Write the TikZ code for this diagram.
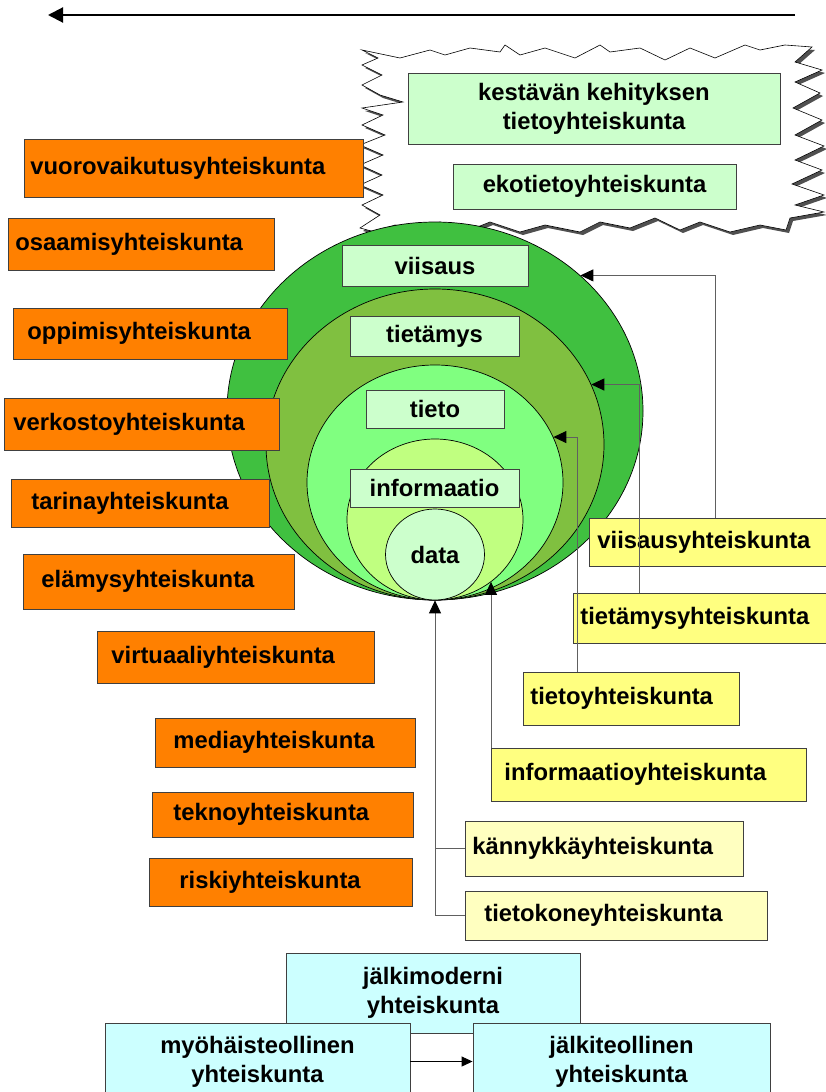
\documentclass[tikz,border=0pt]{standalone}
\usepackage{fontspec}
\setmainfont{Liberation Sans}
\usetikzlibrary{shapes.geometric,arrows.meta}

\definecolor{ringA}{RGB}{64,192,64}
\definecolor{ringB}{RGB}{128,192,64}
\definecolor{ringC}{RGB}{128,255,128}
\definecolor{ringD}{RGB}{192,255,128}
\definecolor{mint}{RGB}{204,255,204}
\definecolor{orangeC}{RGB}{255,128,0}
\definecolor{yellowC}{RGB}{255,255,128}
\definecolor{paleY}{RGB}{255,255,192}
\definecolor{cyanC}{RGB}{204,255,255}
\definecolor{boxline}{RGB}{64,64,64}
\definecolor{connGray}{RGB}{96,96,96}
\definecolor{shadowGray}{RGB}{80,80,80}

\tikzset{
  box/.style={draw=boxline, line width=0.9pt, inner ysep=0pt, text=black},
  obox/.style={box, fill=orangeC, anchor=west, align=left},
  ybox/.style={box, fill=yellowC, anchor=west, align=left},
  lybox/.style={box, fill=paleY, anchor=west, align=left},
  gbox/.style={box, fill=mint, align=center, inner xsep=0pt},
  cbox/.style={box, fill=cyanC, align=center, inner xsep=0pt},
  ring/.style={ellipse, draw=black, line width=0.7pt, inner sep=0pt},
  conn/.style={draw=connGray, line width=1pt},
  tip/.style={-{Triangle[length=13pt,width=12pt,color=black]}},
  cloudedge/.style={insert path={
    (362,50) -- (400,58) -- (430,50) -- (445,55) -- (470,48) -- (500,52) -- (505,45)
    -- (520,55) -- (545,48) -- (575,58) -- (600,45) -- (610,52) -- (640,48) -- (665,60)
    -- (690,48) -- (715,58) -- (745,45) -- (760,50) -- (785,45) -- (812,47)
    -- (795,62) -- (822,70) -- (795,82) -- (820,93) -- (793,108) -- (822,120)
    -- (795,135) -- (824,146) -- (795,160) -- (822,170) -- (792,184) -- (824,195)
    -- (795,205) -- (824,212) -- (790,218) -- (786,230) -- (760,225) -- (730,232)
    -- (700,222) -- (680,230) -- (655,218) -- (630,228) -- (600,222) -- (580,232)
    -- (545,225) -- (520,232) -- (490,222) -- (470,230) -- (440,222) -- (420,228)
    -- (395,225) -- (375,232) -- (360,228) -- (380,215) -- (362,205) -- (383,195)
    -- (360,185) -- (382,175) -- (360,165) -- (383,155) -- (360,145) -- (385,135)
    -- (362,125) -- (383,115) -- (362,108) -- (403,102) -- (380,95) -- (362,85)
    -- (382,75) -- (362,65) -- (378,58) -- cycle}}
}

\begin{document}
\begin{tikzpicture}[x=1pt, y=-1pt, font=\fontsize{23.8}{29}\selectfont\bfseries]
\useasboundingbox (0,0) rectangle (826,1092);

% time arrow along the top
\coordinate (timeR) at (795,15);
\coordinate (timeL) at (48,15);
\draw[line width=2pt, -{Triangle[length=15pt,width=15pt]}] (timeR) -- (timeL);

% jagged cloud with its shadow
\begin{scope}[shift={(3,3)}]
  \fill[shadowGray, cloudedge];
\end{scope}
\filldraw[fill=white, draw=black, line width=0.6pt, cloudedge];

\node[gbox, minimum width=372pt, minimum height=71pt] (kestY) at (594,108.5)
  {kestävän kehityksen\\tietoyhteiskunta};
\node[gbox, minimum width=283pt, minimum height=45pt] (ekoY) at (594.5,186.5)
  {ekotietoyhteiskunta};

% nested rings, all touching at the bottom
\node[ring, fill=ringA, minimum width=416pt, minimum height=378pt] (e1) at (435,411) {};
\node[ring, fill=ringB, minimum width=338pt, minimum height=311pt] (e2) at (435,444.5) {};
\node[ring, fill=ringC, minimum width=256pt, minimum height=235pt] (e3) at (435,482.5) {};
\node[ring, fill=ringD, minimum width=176pt, minimum height=161pt] (e4) at (435,519.5) {};
\node[ring, fill=mint, minimum width=99pt, minimum height=91pt] (e5) at (435,554.5) {data};

\node[gbox, minimum width=186pt, minimum height=41pt] (viisaus) at (435,265.5) {viisaus};
\node[gbox, minimum width=169pt, minimum height=40pt] (tietamys) at (434.5,336) {tietämys};
\node[gbox, minimum width=138pt, minimum height=38pt] (tieto) at (435,409) {tieto};
\node[gbox, minimum width=169pt, minimum height=38pt] (informaatio) at (434.5,488) {informaatio};

% orange societies on the left
\node[obox, text width=327pt, inner xsep=6pt,  minimum height=58pt] (vuoro)   at (24,168)   {vuorovaikutusyhteiskunta};
\node[obox, text width=252pt, inner xsep=7pt,  minimum height=52pt] (osaam)   at (8,244)    {osaamisyhteiskunta};
\node[obox, text width=246pt, inner xsep=14pt, minimum height=51pt] (oppim)   at (13,333.5) {oppimisyhteiskunta};
\node[obox, text width=257pt, inner xsep=9pt,  minimum height=52pt] (verko)   at (4,424)    {verkostoyhteiskunta};
\node[obox, text width=218pt, inner xsep=20pt, minimum height=48pt] (tarina)  at (11,503)   {tarinayhteiskunta};
\node[obox, text width=235pt, inner xsep=18pt, minimum height=55pt] (elamys)  at (23,581.5) {elämysyhteiskunta};
\node[obox, text width=249pt, inner xsep=14pt, minimum height=52pt] (virtu)   at (97,657)   {virtuaaliyhteiskunta};
\node[obox, text width=224pt, inner xsep=18pt, minimum height=49pt] (media)   at (155,742.5){mediayhteiskunta};
\node[obox, text width=219pt, inner xsep=21pt, minimum height=45pt] (tekno)   at (152,814.5){teknoyhteiskunta};
\node[obox, text width=203pt, inner xsep=30pt, minimum height=48pt] (riski)   at (149,882)  {riskiyhteiskunta};

% yellow societies on the right
\node[ybox,  text width=235pt, inner xsep=8pt,  minimum height=48pt] (viisY) at (589,542)   {viisausyhteiskunta};
\node[ybox,  text width=253pt, inner xsep=7pt,  minimum height=50pt] (tmY)   at (573,618)   {tietämysyhteiskunta};
\node[ybox,  text width=202pt, inner xsep=7pt,  minimum height=53pt] (tietoY) at (523,698.5) {tietoyhteiskunta};
\node[ybox,  text width=289pt, inner xsep=13pt, minimum height=53pt] (infY)  at (491,774.5) {informaatioyhteiskunta};
\node[lybox, text width=264pt, inner xsep=7pt,  minimum height=55pt] (knY)   at (465,848.5) {kännykkäyhteiskunta};
\node[lybox, text width=264pt, inner xsep=19pt, minimum height=49pt] (tkY)   at (465,915.5) {tietokoneyhteiskunta};

% connectors into the rings
\draw[conn, tip] ([xshift=126pt]viisY.north west) |- (e1.43);
\draw[conn, tip] ([xshift=66pt]tmY.north west) |- (e2.21);
\draw[conn, tip] ([xshift=54pt]tietoY.north west) |- (e3.21);
\draw[conn, tip] (infY.north west) -- (infY.north west |- e4.-48);
\draw[conn, tip] (tkY.west) -| (e5.south);
\draw[conn] (knY.west) -- (knY.west -| e5.south);

% societies at the bottom
\node[cbox, minimum width=294pt, minimum height=80pt] (jmod) at (433,993) {jälkimoderni\\yhteiskunta};
\node[cbox, minimum width=305pt, minimum height=77pt] (myoh) at (257.5,1061.5) {myöhäisteollinen\\yhteiskunta};
\node[cbox, minimum width=297pt, minimum height=77pt] (jalkit) at (621.5,1061.5) {jälkiteollinen\\yhteiskunta};
\draw[line width=1pt, -{Triangle[length=11pt,width=10pt]}] (myoh.east) -- (jalkit.west);
\end{tikzpicture}
\end{document}
